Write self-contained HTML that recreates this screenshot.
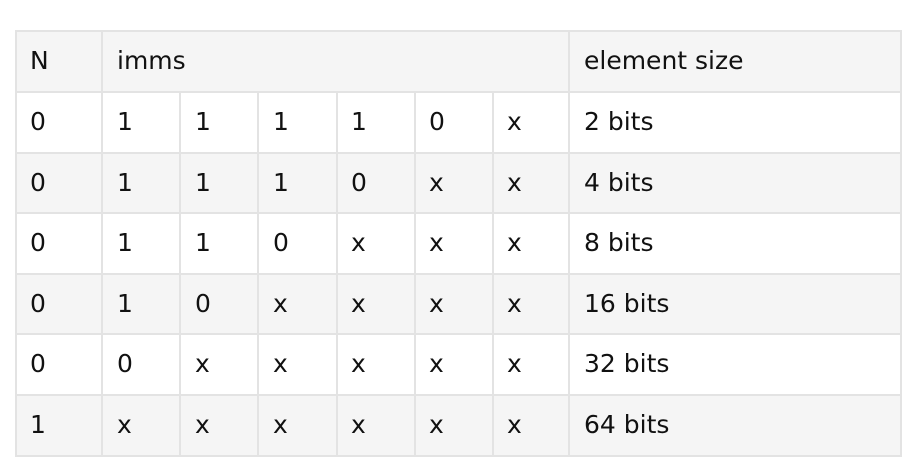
<!DOCTYPE html>
<html><head><style>
body{margin:0;width:910px;height:464px;background:#fff;position:relative;overflow:hidden;font-family:"DejaVu Sans","Liberation Sans",sans-serif;color:#111;}
.r{position:absolute;left:15px;width:886px;}
.h{position:absolute;left:15px;width:887px;height:2px;background:#e3e3e3;}
.v{position:absolute;width:2px;background:#e3e3e3;}
.t{position:absolute;font-size:25px;line-height:28px;}
</style></head><body>
<div class="r" style="top:30px;height:61px;background:#f5f5f5"></div>
<div class="r" style="top:152px;height:60px;background:#f5f5f5"></div>
<div class="r" style="top:273px;height:60px;background:#f5f5f5"></div>
<div class="r" style="top:394px;height:61px;background:#f5f5f5"></div>
<div class="h" style="top:30px"></div><div class="h" style="top:91px"></div><div class="h" style="top:152px"></div><div class="h" style="top:212px"></div><div class="h" style="top:273px"></div><div class="h" style="top:333px"></div><div class="h" style="top:394px"></div><div class="h" style="top:455px"></div>
<div class="v" style="left:15px;top:30px;height:427px"></div>
<div class="v" style="left:101px;top:30px;height:427px"></div>
<div class="v" style="left:568px;top:30px;height:427px"></div>
<div class="v" style="left:900px;top:30px;height:427px"></div>
<div class="v" style="left:179px;top:91px;height:366px"></div>
<div class="v" style="left:257px;top:91px;height:366px"></div>
<div class="v" style="left:336px;top:91px;height:366px"></div>
<div class="v" style="left:414px;top:91px;height:366px"></div>
<div class="v" style="left:492px;top:91px;height:366px"></div>
<div class="t" style="left:30px;top:47px">N</div>
<div class="t" style="left:117px;top:47px">imms</div>
<div class="t" style="left:584px;top:47px">element size</div>
<div id="rows"></div>
<script>
var d=[["0","1","1","1","1","0","x","2 bits"],["0","1","1","1","0","x","x","4 bits"],["0","1","1","0","x","x","x","8 bits"],["0","1","0","x","x","x","x","16 bits"],["0","0","x","x","x","x","x","32 bits"],["1","x","x","x","x","x","x","64 bits"]];
var xs=[30,117,195,273,351,429,507,584],ys=[108,169,229,290,350,411],h="";
d.forEach(function(r,i){r.forEach(function(c,j){h+='<div class="t" style="left:'+xs[j]+'px;top:'+ys[i]+'px">'+c+'</div>';});});
document.getElementById("rows").innerHTML=h;
</script>
</body></html>
